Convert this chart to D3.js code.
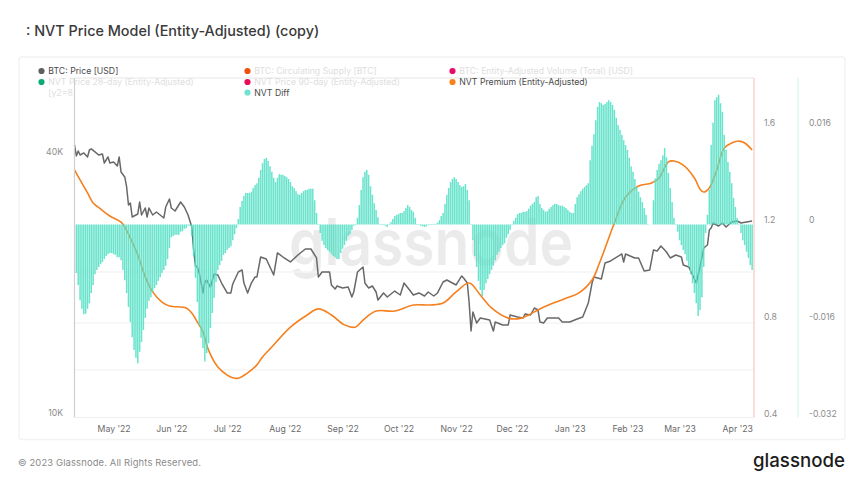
<!DOCTYPE html>
<html>
<head>
<meta charset="utf-8">
<script src="https://cdn.jsdelivr.net/npm/d3@7/dist/d3.min.js"></script>
<style>
  html, body { margin: 0; padding: 0; background: #fff; }
  text { font-family: Inter, "Noto Sans", sans-serif; }
</style>
</head>
<body>
<div id="chart"></div>
<script>
// first day of the series, every "day" number below counts from here
var startDate = new Date(Date.UTC(2022, 3, 10));

var priceDays = [0,1,2,3,5,7,8,9,11,13,15,16,18,19,21,23,24,25,27,28,29,30,31,34,35,36,38,39,40,42,44,46,48,49,51,52,54,55,57,59,61,63,64,65,66,67,69,70,71,73,75,77,79,82,84,85,88,90,91,93,95,97,98,100,103,104,107,109,112,116,120,124,127,130,131,133,137,138,140,141,144,147,149,150,152,155,156,158,160,162,163,166,168,172,175,177,180,182,185,188,190,193,195,198,200,202,205,208,209,211,212,213,214,216,218,223,225,226,230,233,234,238,241,242,245,247,249,250,252,254,260,262,266,270,273,276,278,279,283,285,288,294,295,296,301,303,306,309,311,313,315,318,320,323,326,327,330,334,336,338,340,341,342,343,346,348,350,353,356,358,361,364];
var priceUsd = [42530,40110,41190,40320,40760,39900,41410,41640,40980,40320,40540,38640,39900,38640,38850,38030,39900,36840,35870,34010,30900,31230,28990,29460,31400,29300,30410,28990,30410,29300,29770,29300,28840,30570,31910,30410,29930,30410,31400,30570,29300,27490,24320,22330,22220,21520,19350,20510,20730,19970,21400,21290,20400,19350,19350,20300,21630,21870,20400,19350,20400,21070,21070,23430,23180,22700,21290,23940,23430,22820,23680,24450,24450,23310,21070,21630,21630,20190,19760,20080,19870,19970,18940,19450,21630,22220,20400,19870,20080,19450,18640,19350,18940,19550,19140,20400,19660,19140,19350,19040,19450,19040,19350,20510,20730,20510,20190,21180,20950,20400,18340,15800,17490,16490,16940,16760,15800,16580,16320,16320,17210,17030,16940,17300,17210,17860,17670,16580,16490,16940,16940,16580,16580,16850,17030,18340,20400,21070,20840,22700,22940,23810,22820,23810,23310,23310,21750,21870,24320,24190,24850,24060,23310,23680,23430,22450,22220,20400,22220,24580,24980,27050,27340,28080,27630,28080,27490,28230,28380,28080,28230,28380];

var premiumDays = [0,3,7,10,14,19,25,27,30,34,38,42,47,51,60,63,66,69,72,77,82,85,88,93,98,101,106,116,125,131,138,145,151,155,162,172,182,191,198,205,212,218,224,233,240,251,263,271,278,282,290,296,303,310,314,319,322,327,333,336,338,341,345,349,353,357,360,364];
var premiumValues = [1.425,1.384,1.330,1.289,1.264,1.235,1.210,1.190,1.144,1.074,0.984,0.922,0.880,0.864,0.856,0.835,0.798,0.757,0.682,0.612,0.579,0.568,0.566,0.588,0.621,0.654,0.695,0.777,0.827,0.852,0.827,0.786,0.777,0.806,0.843,0.843,0.868,0.868,0.876,0.922,0.959,0.909,0.856,0.814,0.814,0.856,0.893,0.918,0.971,1.041,1.206,1.313,1.359,1.371,1.392,1.458,1.462,1.445,1.392,1.346,1.334,1.351,1.425,1.515,1.536,1.544,1.536,1.507];

// NVT diff in thousandths, one value per day starting at day 1
var diffMilli = [
  -8.0,-10.0,-12.5,-13.9,-14.8,-14.7,-13.9,-13.0,-11.3,-10.0,-8.2,-7.5,-7.0,-6.5,-6.2,-5.7,-5.2,-4.9,-4.7,-4.7,
  -4.9,-5.0,-5.4,-5.4,-5.9,-7.5,-9.2,-11.3,-13.6,-16.1,-18.6,-20.7,-22.0,-22.9,-21.0,-19.4,-17.4,-15.4,-13.9,-12.6,
  -12.0,-11.1,-10.5,-10.0,-9.3,-8.7,-8.0,-7.5,-6.8,-5.7,-3.9,-2.1,-1.9,-1.7,-1.7,-1.7,-1.2,-1.1,-0.7,-0.6,
  -0.2,-0.2,-1.9,-5.2,-8.8,-12.8,-16.6,-18.7,-20.4,-22.6,-21.2,-19.6,-17.1,-14.6,-12.1,-9.5,-7.5,-6.7,-6.0,-5.0,
  -4.7,-4.2,-3.9,-3.6,-2.6,-1.6,-0.6,0.9,2.9,3.9,4.7,5.2,5.2,5.2,5.4,6.0,6.5,6.8,7.7,9.0,
  10.1,10.8,11.0,10.5,9.6,8.7,7.7,7.0,7.7,8.3,8.2,8.2,8.0,7.8,7.5,7.0,6.3,6.0,5.5,5.0,
  4.9,5.2,5.5,5.7,5.7,5.9,5.9,5.9,4.0,1.9,0.1,-1.4,-2.7,-3.4,-3.9,-4.2,-4.5,-4.9,-5.2,-5.4,
  -5.7,-5.7,-4.7,-4.0,-3.4,-2.7,-1.9,-1.6,-0.9,-0.2,-0.1,1.1,3.2,5.7,7.8,8.7,9.0,8.2,6.3,4.9,
  3.5,2.4,1.2,0.1,-0.1,-0.1,-0.2,-0.4,0.1,0.4,0.9,1.4,1.6,1.7,1.9,1.9,2.2,2.7,3.2,2.9,
  2.4,2.1,1.1,0.1,-0.1,-0.2,-0.3,-0.4,-0.3,-0.1,-0.1,0.1,0.1,0.1,0.3,0.7,1.4,1.9,3.4,4.9,
  6.0,7.0,7.5,7.8,7.5,7.0,6.5,6.2,6.3,6.7,5.7,4.0,0.1,-2.6,-5.2,-7.0,-9.3,-10.8,-11.8,-10.8,
  -9.7,-9.0,-8.2,-7.5,-6.8,-5.9,-5.0,-4.5,-3.9,-3.4,-3.1,-2.2,-1.6,-0.9,-0.1,0.6,1.1,1.7,1.9,1.9,
  2.1,2.1,2.2,2.6,3.1,3.4,3.7,4.5,4.7,3.4,2.7,2.4,2.1,2.2,2.6,2.9,3.2,3.4,3.4,3.2,
  3.1,3.1,2.9,2.7,2.4,2.1,1.9,1.9,3.4,4.5,5.0,5.5,5.9,6.2,6.5,6.8,10.6,13.0,14.9,17.2,
  19.4,20.2,20.0,19.7,19.9,20.2,20.5,20.2,19.7,18.9,17.6,16.4,15.6,14.8,13.9,13.1,12.3,11.0,9.6,8.7,
  7.5,6.2,5.4,4.5,3.7,2.7,1.6,0.1,0,0,4.0,7.6,9.0,10.0,10.6,11.4,12.6,11.1,8.5,6.0,
  3.7,1.1,0.1,-1.2,-2.6,-3.4,-4.2,-4.9,-6.0,-7.0,-8.2,-9.7,-11.3,-13.0,-15.1,-14.1,-12.0,-7.0,-1.4,1.6,
  5.7,13.1,16.8,20.5,21.0,21.4,20.0,18.6,14.8,12.3,10.3,8.7,6.8,4.4,2.9,1.1,0.1,-1.4,-2.6,-3.4,
  -4.5,-5.5,-6.7,-7.5
];

var priceTicks = [10000, 40000];
var premiumTicks = [0.4, 0.8, 1.2, 1.6];
var diffTicks = [-0.032, -0.016, 0, 0.016];
var gridPrices = [21630, 16490, 12840];

var legendLabels = [
  "BTC: Price [USD]", "BTC: Circulating Supply [BTC]", "BTC: Entity-Adjusted Volume (Total) [USD]",
  "NVT Price 28-day (Entity-Adjusted)", "NVT Price 90-day (Entity-Adjusted)", "NVT Premium (Entity-Adjusted)",
  "[y2=8", "NVT Diff"
];
var legendColors = ["#5f5f5f", "#f04e0a", "#ea0a6a", "#0bab76", "#ea0a5a", "#f7821b", null, "#6fe3cd"];
var legendFaded = [false, true, true, true, true, false, true, false];

var width = 863, height = 484;
var plot = {left: 74.5, right: 754, top: 78, bottom: 417.5};

function dayToDate(d) {
    return d3.utcDay.offset(startDate, d);
}

var x = d3.scaleUtc()
    .domain([startDate, dayToDate(365.9)])
    .range([plot.left, plot.right]);
var yPrice = d3.scaleLog().domain([10000, 40000]).range([417, 156.5]);
var yPremium = d3.scaleLinear().domain([0.4, 1.6]).range([418.5, 127.5]);
var yDiff = d3.scaleLinear().domain([-0.032, 0.016]).range([418.5, 127.5]);

var svg = d3.select("#chart").append("svg")
    .attr("width", width)
    .attr("height", height)
    .style("display", "block");

svg.append("text")
    .attr("x", 26).attr("y", 36)
    .attr("font-size", 14.4).attr("font-weight", 500)
    .attr("fill", "#3a3a3a")
    .text(": NVT Price Model (Entity-Adjusted) (copy)");

svg.append("rect")
    .attr("x", 19).attr("y", 57).attr("width", 826).attr("height", 382.5).attr("rx", 3)
    .attr("fill", "#fff").attr("stroke", "#f3f3f3").attr("stroke-width", 1.5);

// watermark sits under everything
svg.append("text")
    .attr("x", 289).attr("y", 265)
    .attr("font-size", 64).attr("font-weight", 600)
    .attr("textLength", 284).attr("lengthAdjust", "spacingAndGlyphs")
    .attr("fill", "#ebebeb")
    .text("glassnode");

svg.selectAll("line.grid").data(gridPrices).enter().append("line")
    .attr("class", "grid")
    .attr("x1", plot.left).attr("x2", plot.right)
    .attr("y1", function(d) { return yPrice(d); })
    .attr("y2", function(d) { return yPrice(d); })
    .attr("stroke", "#f4f4f4").attr("stroke-width", 1.5);

svg.append("line").attr("x1", plot.left).attr("x2", plot.right).attr("y1", plot.top).attr("y2", plot.top)
    .attr("stroke", "#e6e6e6");

// lines first, the bars go over them like in the original
var priceLine = d3.line()
    .x(function(d) { return x(dayToDate(d)); })
    .y(function(d, i) { return yPrice(priceUsd[i]); });
svg.append("path")
    .attr("d", priceLine(priceDays))
    .attr("fill", "none").attr("stroke", "#686868").attr("stroke-width", 1.5).attr("stroke-linejoin", "round");

var premiumLine = d3.line()
    .x(function(d) { return x(dayToDate(d)); })
    .y(function(d, i) { return yPremium(premiumValues[i]); })
    .curve(d3.curveCatmullRom.alpha(0.5));
svg.append("path")
    .attr("d", premiumLine(premiumDays))
    .attr("fill", "none").attr("stroke", "#f5801f").attr("stroke-width", 1.6);

svg.selectAll("rect.bar").data(diffMilli).enter().append("rect")
    .attr("class", "bar")
    .attr("x", function(d, i) { return x(dayToDate(i + 1)) - 0.75; })
    .attr("width", 1.5)
    .attr("y", function(d) { return Math.min(yDiff(d / 1000), yDiff(0)); })
    .attr("height", function(d) { return Math.abs(yDiff(d / 1000) - yDiff(0)); })
    .attr("fill", "#58e0c6").attr("fill-opacity", 0.9);

// axes
function styleAxis(g, color, size) {
    g.select(".domain").remove();
    g.selectAll("line").remove();
    g.selectAll("text").attr("font-size", size).attr("fill", color)
        .style("font-family", "Inter, 'Noto Sans', sans-serif");
}

svg.append("g")
    .attr("transform", "translate(0," + (plot.bottom + 5.5) + ")")
    .call(d3.axisBottom(x).ticks(d3.utcMonth.every(1)).tickFormat(d3.utcFormat("%b '%y")).tickSize(0))
    .call(styleAxis, "#6a6a6a", 8.7);

svg.append("g")
    .attr("transform", "translate(66,-4.5)")
    .call(d3.axisLeft(yPrice).tickValues(priceTicks).tickFormat(function(d) { return (d / 1000) + "K"; }).tickSize(0))
    .call(styleAxis, "#8c8c8c", 8.7);

svg.append("g")
    .attr("transform", "translate(761,-4.5)")
    .call(d3.axisRight(yPremium).tickValues(premiumTicks).tickFormat(function(d) { return d; }).tickSize(0))
    .call(styleAxis, "#8c8c8c", 8.7);

svg.append("g")
    .attr("transform", "translate(806,-4.5)")
    .call(d3.axisRight(yDiff).tickValues(diffTicks).tickFormat(function(d) { return d; }).tickSize(0))
    .call(styleAxis, "#8c8c8c", 8.7);

svg.append("line").attr("x1", plot.left).attr("x2", plot.left).attr("y1", plot.top).attr("y2", plot.bottom)
    .attr("stroke", "#cfcfcf").attr("stroke-width", 1.2);
svg.append("line").attr("x1", plot.left).attr("x2", plot.right).attr("y1", plot.bottom).attr("y2", plot.bottom)
    .attr("stroke", "#eeeeee").attr("stroke-width", 1.2);
svg.append("line").attr("x1", plot.right).attr("x2", plot.right).attr("y1", plot.top).attr("y2", plot.bottom)
    .attr("stroke", "#f9c8c2").attr("stroke-width", 1.2);
svg.append("line").attr("x1", 798).attr("x2", 798).attr("y1", plot.top).attr("y2", plot.bottom)
    .attr("stroke", "#d6f6ef").attr("stroke-width", 1.2);

// legend, three columns filled row by row
var legendCols = [41.5, 247.5, 452.5];
var legendRows = [71, 82, 92.5];
var legendSlots = [[0,0],[1,0],[2,0],[0,1],[1,1],[2,1],[0,2],[1,2]];

var legend = svg.selectAll("g.legend").data(legendLabels).enter().append("g")
    .attr("class", "legend")
    .attr("transform", function(d, i) {
        return "translate(" + legendCols[legendSlots[i][0]] + "," + legendRows[legendSlots[i][1]] + ")";
    });
legend.filter(function(d, i) { return legendColors[i]; }).append("circle")
    .attr("r", 3.1)
    .attr("fill", function(d) { return legendColors[legendLabels.indexOf(d)]; });
legend.append("text")
    .attr("x", 6.8)
    .attr("y", 3.2)
    .attr("font-size", 8.7)
    .attr("fill", function(d, i) { return legendFaded[i] ? "#dedede" : "#4a4a4a"; })
    .text(function(d) { return d; });

svg.append("text")
    .attr("x", 18).attr("y", 466)
    .attr("font-size", 9.4).attr("fill", "#8a8a8a").attr("letter-spacing", 0.15)
    .text("© 2023 Glassnode. All Rights Reserved.");

svg.append("text")
    .attr("x", 753).attr("y", 467)
    .attr("font-size", 19).attr("font-weight", 500)
    .attr("textLength", 92).attr("lengthAdjust", "spacingAndGlyphs")
    .attr("fill", "#1c1c1c")
    .text("glassnode");
</script>
</body>
</html>
